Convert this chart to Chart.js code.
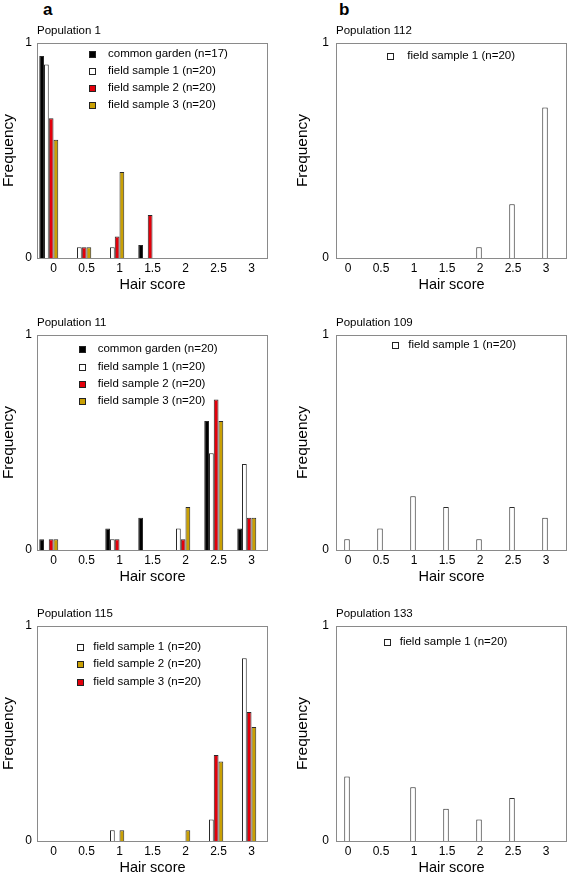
<!DOCTYPE html>
<html>
<head>
<meta charset="utf-8">
<script src="https://cdn.jsdelivr.net/npm/chart.js@4.4.1/dist/chart.umd.min.js"></script>
<style>
  body { margin: 0; background: #fff; }
  #page { position: relative; width: 568px; height: 878px; overflow: hidden; font-family: "Liberation Sans", Arial, sans-serif; }
  canvas { position: absolute; }
  .panel-tag { position: absolute; top: 1px; font-size: 17px; line-height: 1; font-weight: bold; color: #000; }
</style>
</head>
<body>
<div id="page">
  <div class="panel-tag" style="left:43px">a</div>
  <div class="panel-tag" style="left:339px">b</div>
  <canvas id="pop1" width="284" height="274" style="left:0;top:20px"></canvas>
  <canvas id="pop112" width="284" height="274" style="left:284px;top:20px"></canvas>
  <canvas id="pop11" width="284" height="274" style="left:0;top:312px"></canvas>
  <canvas id="pop109" width="284" height="274" style="left:284px;top:312px"></canvas>
  <canvas id="pop115" width="284" height="274" style="left:0;top:603px"></canvas>
  <canvas id="pop133" width="284" height="274" style="left:284px;top:603px"></canvas>
</div>
<script>
// =====================
// DATA
// =====================
const hairScores = ["0", "0.5", "1", "1.5", "2", "2.5", "3"];
const freqTicks = [0, 1];

// Population 1
const pop1Garden = [0.94, 0, 0, 0.06, 0, 0, 0];
const pop1Field1 = [0.90, 0.05, 0.05, 0, 0, 0, 0];
const pop1Field2 = [0.65, 0.05, 0.10, 0.20, 0, 0, 0];
const pop1Field3 = [0.55, 0.05, 0.40, 0, 0, 0, 0];

// Population 11
const pop11Garden = [0.05, 0, 0.10, 0.15, 0, 0.60, 0.10];
const pop11Field1 = [0, 0, 0.05, 0, 0.10, 0.45, 0.40];
const pop11Field2 = [0.05, 0, 0.05, 0, 0.05, 0.70, 0.15];
const pop11Field3 = [0.05, 0, 0, 0, 0.20, 0.60, 0.15];

// Population 115
const pop115Field1 = [0, 0, 0.05, 0, 0, 0.10, 0.85];
const pop115Field2 = [0, 0, 0.05, 0, 0.05, 0.37, 0.53];
const pop115Field3 = [0, 0, 0, 0, 0, 0.40, 0.60];

// Populations in panel b
const pop112Field1 = [0, 0, 0, 0, 0.05, 0.25, 0.70];
const pop109Field1 = [0.05, 0.10, 0.25, 0.20, 0.05, 0.20, 0.15];
const pop133Field1 = [0.30, 0, 0.25, 0.15, 0.10, 0.20, 0];

// empty slot, keeps the bar groups left of the tick like the original
const emptySlot = [null, null, null, null, null, null, null];

// =====================
// STYLE
// =====================
const FONT = '"Liberation Sans", Arial, sans-serif';
const BLACK = "#000000";
const WHITE = "#ffffff";
const RED = "#e3000b";
const GOLD = "#c9a004";

Chart.defaults.font.family = FONT;
Chart.defaults.color = "#000";

function bars(label, data, color) {
  return {
    label: label,
    data: data,
    backgroundColor: color,
    borderColor: "#2a2a2a",
    borderWidth: 1,
    inflateAmount: 0
  };
}

function spacer() {
  return { label: "", data: emptySlot, backgroundColor: "rgba(0,0,0,0)", borderWidth: 0, inflateAmount: 0 };
}

// box round the plot area
const frameBox = {
  id: "frameBox",
  afterDatasetsDraw(chart) {
    const { ctx, chartArea } = chart;
    const l = Math.round(chartArea.left), t = Math.round(chartArea.top);
    const r = Math.round(chartArea.right), b = Math.round(chartArea.bottom);
    ctx.save();
    ctx.strokeStyle = "#8a8a8a";
    ctx.lineWidth = 1;
    ctx.strokeRect(l + 0.5, t + 0.5, r - l - 1, b - t);
    ctx.restore();
  }
};

// legend drawn inside the plot area
const insideLegend = {
  id: "insideLegend",
  afterDraw(chart, args, opts) {
    const { ctx, chartArea } = chart;
    const sets = chart.data.datasets;
    const order = opts.order || sets.map((d, i) => i).filter(i => sets[i].label);
    ctx.save();
    ctx.font = "11.5px " + FONT;
    ctx.textBaseline = "middle";
    order.forEach((idx, row) => {
      const ds = sets[idx];
      const y = chartArea.top + opts.top + row * opts.step;
      const x = chartArea.left + opts.box;
      ctx.fillStyle = ds.backgroundColor;
      ctx.fillRect(Math.round(x - 3), Math.round(y - 3), 6, 6);
      ctx.strokeStyle = "#222";
      ctx.lineWidth = 1;
      ctx.strokeRect(Math.round(x - 3) + 0.5, Math.round(y - 3) + 0.5, 6, 6);
      ctx.fillStyle = "#000";
      ctx.fillText(ds.label, chartArea.left + opts.text, y);
    });
    ctx.restore();
  }
};

// =====================
// CHART BUILDER
// =====================
function makePanel(id, title, datasets, col, barWidth, legend) {
  const isB = col === "b";
  new Chart(document.getElementById(id), {
    type: "bar",
    data: { labels: hairScores, datasets: datasets },
    options: {
      responsive: false,
      animation: false,
      events: [],
      layout: { padding: isB ? { left: 11, right: 1, top: 0, bottom: 0 } : { left: 1, right: 16, top: 0, bottom: 0 } },
      datasets: { bar: { barThickness: barWidth } },
      plugins: {
        legend: { display: false },
        tooltip: { enabled: false },
        title: {
          display: true,
          text: title,
          align: "start",
          fullSize: false,
          color: "#000",
          font: { size: 11.5, weight: "normal", lineHeight: 1.2 },
          padding: { top: 4, bottom: 5.2 }
        },
        insideLegend: legend
      },
      scales: {
        x: {
          grid: { display: false, drawTicks: false },
          border: { display: false },
          afterFit: (axis) => { axis.height = 36; },
          ticks: {
            color: "#000",
            padding: 3,
            maxRotation: 0,
            autoSkip: false,
            labelOffset: isB ? -4.5 : 0,
            font: { size: 12 }
          },
          title: {
            display: true,
            text: "Hair score",
            color: "#000",
            font: { size: 14.5, lineHeight: 1.2 },
            padding: 0
          }
        },
        y: {
          min: 0,
          max: 1,
          grid: { display: false, drawTicks: false },
          border: { display: false },
          afterBuildTicks: (axis) => { axis.ticks = freqTicks.map(v => ({ value: v })); },
          afterFit: (axis) => { axis.width = isB ? 41 : 36; },
          ticks: {
            color: "#000",
            padding: isB ? 7 : 5,
            font: { size: 12 },
            callback: (v) => String(v)
          },
          title: {
            display: true,
            text: "Frequency",
            color: "#000",
            font: { size: 15.5, lineHeight: 1 },
            padding: 0
          }
        }
      }
    },
    plugins: [frameBox, insideLegend]
  });
}

// =====================
// PANELS
// =====================
makePanel("pop1", "Population 1", [
  bars("common garden (n=17)", pop1Garden, BLACK),
  bars("field sample 1 (n=20)", pop1Field1, WHITE),
  bars("field sample 2 (n=20)", pop1Field2, RED),
  bars("field sample 3 (n=20)", pop1Field3, GOLD),
  spacer(), spacer()
], "a", 4.75, { box: 55, text: 71, top: 10.5, step: 17.2 });

makePanel("pop11", "Population 11", [
  bars("common garden (n=20)", pop11Garden, BLACK),
  bars("field sample 1 (n=20)", pop11Field1, WHITE),
  bars("field sample 2 (n=20)", pop11Field2, RED),
  bars("field sample 3 (n=20)", pop11Field3, GOLD),
  spacer(), spacer()
], "a", 4.75, { box: 45, text: 60.7, top: 14.3, step: 17.3 });

// bars go white, red, gold; the legend lists sample 2 (gold) before sample 3 (red)
makePanel("pop115", "Population 115", [
  bars("field sample 1 (n=20)", pop115Field1, WHITE),
  bars("field sample 3 (n=20)", pop115Field3, RED),
  bars("field sample 2 (n=20)", pop115Field2, GOLD),
  spacer()
], "a", 4.75, { box: 43, text: 56.3, top: 20.7, step: 17.6, order: [0, 2, 1] });

makePanel("pop112", "Population 112", [
  bars("field sample 1 (n=20)", pop112Field1, WHITE),
  spacer(), spacer()
], "b", 5.5, { box: 54, text: 71.3, top: 13, step: 17 });

makePanel("pop109", "Population 109", [
  bars("field sample 1 (n=20)", pop109Field1, WHITE),
  spacer(), spacer()
], "b", 5.5, { box: 59.3, text: 72.3, top: 10.3, step: 17 });

makePanel("pop133", "Population 133", [
  bars("field sample 1 (n=20)", pop133Field1, WHITE),
  spacer(), spacer()
], "b", 5.5, { box: 51, text: 63.7, top: 16, step: 17 });
</script>
</body>
</html>
